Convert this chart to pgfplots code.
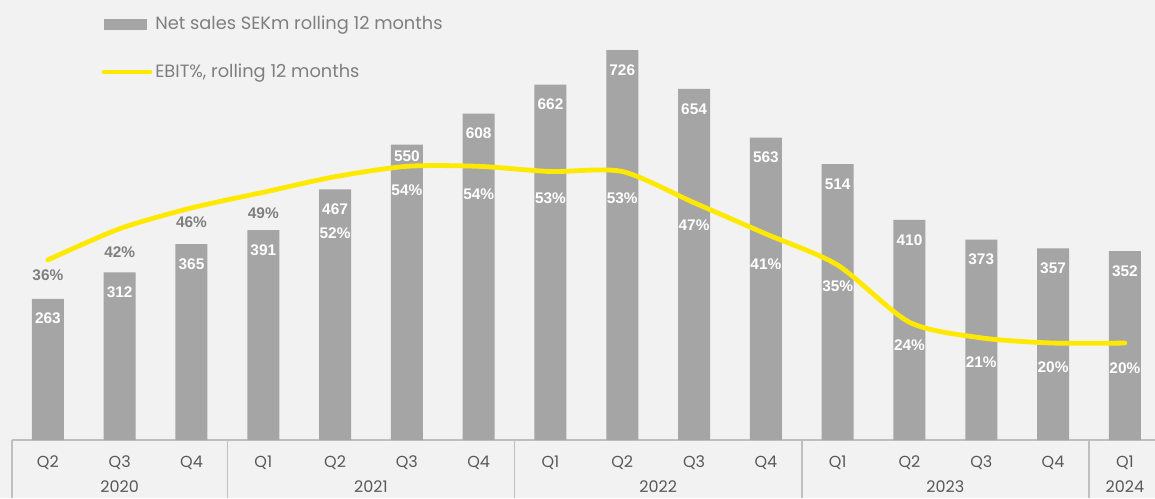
\documentclass[border=0pt]{standalone}
\usepackage{pgfplots}
\pgfplotsset{compat=1.18}
\usepackage{pgfplotstable}
\usepackage{fontspec}
\setmainfont{Poppins}
\newfontfamily\lab{Liberation Sans}
\definecolor{bg}{HTML}{F2F2F2}
\definecolor{barc}{HTML}{A5A5A5}
\definecolor{ebit}{HTML}{FFE900}
\definecolor{txt}{HTML}{7F7F7F}
\definecolor{tickc}{HTML}{595959}
\definecolor{sep}{HTML}{BFBFBF}

% x, net sales (SEKm), EBIT%, where its label sits (in % units), bar label offset (pt)
\pgfplotstableread{
x  sales ebit lpos off
0  263   36   33.1 -7
1  312   42   37.5 -7
2  365   46   43.3 -7
3  391   49   45.0 -7
4  467   52   41.2 -7
5  550   54   49.4 -3
6  608   54   48.7 -7
7  662   53   47.9 -7
8  726   53   47.9 -7
9  654   47   42.7 -7
10 563   41   35.2 -7
11 514   35   31.0 -7
12 410   24   19.6 -7
13 373   21   16.3 -7
14 357   20   15.4 -7
15 352   20   15.2 -7
}\data

\begin{document}
\begin{tikzpicture}
\path[use as bounding box, fill=bg] (0,0) rectangle (577.5pt,249pt);
\begin{axis}[
  name=ax1,
  at={(6pt,29pt)}, anchor=south west,
  scale only axis, width=571.5pt, height=200pt,
  xmin=-0.5, xmax=15.42, ymin=0, ymax=745,
  axis x line*=bottom, axis y line=none,
  x axis line style={draw=sep, line width=0.75pt, -},
  xtick={0,...,15},
  xticklabels={Q2,Q3,Q4,Q1,Q2,Q3,Q4,Q1,Q2,Q3,Q4,Q1,Q2,Q3,Q4,Q1},
  major tick length=0pt,
  xticklabel style={font=\fontsize{8}{9}\selectfont, text=tickc, anchor=base, yshift=-13.5pt},
  extra x ticks={-0.5,2.5,6.5,10.5,14.5},
  extra x tick labels={},
  extra x tick style={major tick length=29pt, tick align=outside,
    tick style={draw=sep, line width=0.75pt}},
  ybar, bar width=16pt,
  /pgf/number format/assume math mode=true,
  clip=false,
]
\addplot[fill=barc, draw=none,
  visualization depends on={\thisrow{off} \as \off},
  nodes near coords,
  nodes near coords style={font=\lab\bfseries\fontsize{7.7}{9}\selectfont, text=white,
    anchor=north, inner sep=0pt, yshift=\off pt}]
  table[x=x, y=sales] {\data};
\node[font=\fontsize{8}{9}\selectfont, text=tickc, anchor=base] at (axis cs:1,0) [yshift=-26pt] {2020};
\node[font=\fontsize{8}{9}\selectfont, text=tickc, anchor=base] at (axis cs:4.5,0) [yshift=-26pt] {2021};
\node[font=\fontsize{8}{9}\selectfont, text=tickc, anchor=base] at (axis cs:8.5,0) [yshift=-26pt] {2022};
\node[font=\fontsize{8}{9}\selectfont, text=tickc, anchor=base] at (axis cs:12.5,0) [yshift=-26pt] {2023};
\node[font=\fontsize{8}{9}\selectfont, text=tickc, anchor=base] at (axis cs:15,0) [yshift=-26pt] {2024};
\end{axis}

\begin{axis}[
  at={(ax1.south west)}, anchor=south west,
  scale only axis, width=571.5pt, height=200pt,
  xmin=-0.5, xmax=15.42, ymin=1.35, ymax=78.3,
  axis x line=none, axis y line=none, clip=false,
  /pgf/number format/assume math mode=true,
  legend style={at={(axis description cs:0.078,1.068)}, anchor=north west,
    draw=none, fill=none, font=\fontsize{8.9}{10}\selectfont, text=txt,
    row sep=12.5pt, inner sep=0pt,
    nodes={inner sep=1.5pt}},
  legend cell align=left,
]
\addlegendimage{legend image code/.code={\fill[barc] (0pt,-2.5pt) rectangle (21pt,2.5pt);}}
\addlegendentry{Net sales SEKm rolling 12 months}
\addplot[ebit, line width=2.4pt, smooth, tension=0.45, line cap=round,
  legend image code/.code={\draw (0pt,0pt) -- (23pt,0pt);}]
  table[x=x, y=ebit] {\data};
\addlegendentry{EBIT\%, rolling 12 months}
\addplot[draw=none, mark=none, forget plot, restrict x to domain=0:3,
  point meta=\thisrow{ebit},
  nodes near coords={\pgfmathprintnumber{\pgfplotspointmeta}\%},
  nodes near coords style={font=\lab\bfseries\fontsize{7.7}{9}\selectfont, text=txt,
    anchor=center, inner sep=0pt}]
  table[x=x, y=lpos] {\data};
\addplot[draw=none, mark=none, forget plot, restrict x to domain=4:15,
  point meta=\thisrow{ebit},
  nodes near coords={\pgfmathprintnumber{\pgfplotspointmeta}\%},
  nodes near coords style={font=\lab\bfseries\fontsize{7.7}{9}\selectfont, text=white,
    anchor=center, inner sep=0pt}]
  table[x=x, y=lpos] {\data};
\end{axis}
\end{tikzpicture}
\end{document}
